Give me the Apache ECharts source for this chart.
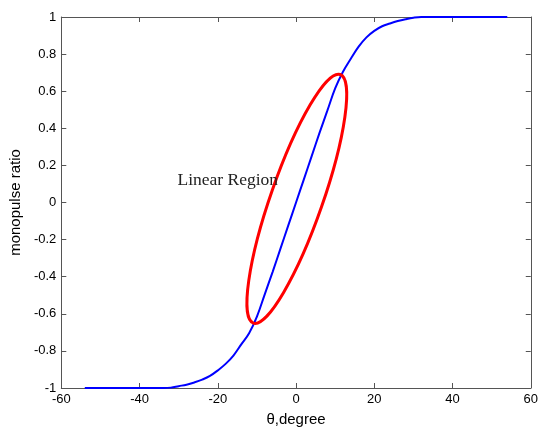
<!DOCTYPE html>
<html>
<head>
<meta charset="UTF-8">
<title>monopulse ratio</title>
<script src="https://cdn.jsdelivr.net/npm/echarts@6/dist/echarts.min.js"></script>
<style>
    body, html { margin: 0; padding: 0; background: #fff; }
    #main { width: 541px; height: 432px; }
</style>
</head>
<body>
<div id="main"></div>
<script>
// angle (deg) and monopulse ratio
var theta = [-54, -50, -46, -42, -38, -34, -32, -30, -28, -26, -24, -22, -20, -18, -16, -14, -12, -10, -8, -6, -4, -2,
    0, 2, 4, 6, 8, 10, 12, 14, 16, 18, 20, 22, 24, 26, 28, 30, 32, 34, 38, 42, 46, 50, 54];
var ratio = [-1, -1, -1, -1, -1, -1, -0.998, -0.99, -0.982, -0.97, -0.955, -0.935, -0.905, -0.87, -0.825, -0.765, -0.705, -0.615, -0.495, -0.375, -0.25, -0.125,
    0, 0.125, 0.25, 0.375, 0.495, 0.615, 0.705, 0.775, 0.84, 0.89, 0.925, 0.95, 0.965, 0.978, 0.988, 0.996, 1, 1, 1, 1, 1, 1, 1];
var xTicks = [-60, 60, 20];
var yTicks = [-1, 1, 0.2];

// annotation: ellipse centre + tip of major axis, text anchor
var ellipseCentre = [0.2, 0.02];
var ellipseTip = [11.3, 0.69];
var labelAt = [-30.3, 0.118];
var labelText = 'Linear Region';

var pts = [];
for (var i = 0; i < theta.length; i++) pts.push([theta[i], ratio[i]]);

var axisCol = '#555';
var tickFont = { fontSize: 13, color: '#000', fontFamily: 'Liberation Sans' };
function xa(pos, showLabel) {
    return {
        type: 'value', position: pos, min: xTicks[0], max: xTicks[1], interval: xTicks[2],
        axisLine: { show: true, onZero: false, lineStyle: { color: axisCol, width: 1 } },
        axisTick: { show: true, inside: true, length: 5, lineStyle: { color: axisCol } },
        axisLabel: Object.assign({ show: showLabel, margin: 5 }, tickFont),
        splitLine: { show: false }
    };
}
function ya(pos, showLabel) {
    return {
        type: 'value', position: pos, min: yTicks[0], max: yTicks[1], interval: yTicks[2],
        axisLine: { show: true, onZero: false, lineStyle: { color: axisCol, width: 1 } },
        axisTick: { show: true, inside: true, length: 5, lineStyle: { color: axisCol } },
        axisLabel: Object.assign({ show: showLabel, margin: 5,
            formatter: function (v) { return String(+v.toFixed(1)); } }, tickFont),
        splitLine: { show: false }
    };
}

var myChart = echarts.init(document.getElementById('main'));
var nameFont = { fontSize: 15, color: '#000', fontFamily: 'Liberation Sans' };
var x0 = xa('bottom', true);
x0.name = 'θ,degree';
x0.nameLocation = 'middle';
x0.nameGap = 24;
x0.nameTextStyle = nameFont;
var y0 = ya('left', true);
y0.name = 'monopulse ratio';
y0.nameLocation = 'middle';
y0.nameGap = 35;
y0.nameTextStyle = nameFont;

option = {
    animation: false,
    grid: { left: 61, right: 8, top: 17, bottom: 43 },
    xAxis: [x0, xa('top', false)],
    yAxis: [y0, ya('right', false)],
    series: [{
        type: 'line',
        data: pts,
        symbol: 'none',
        smooth: 0.4,
        lineStyle: { color: '#0000ff', width: 2 },
        z: 2
    }, {
        type: 'custom',
        data: [[ellipseCentre[0], ellipseCentre[1], ellipseTip[0], ellipseTip[1]]],
        encode: { x: 0, y: 1 },
        renderItem: function (params, api) {
            var c = api.coord([api.value(0), api.value(1)]);
            var t = api.coord([api.value(2), api.value(3)]);
            var a = Math.sqrt((t[0] - c[0]) * (t[0] - c[0]) + (t[1] - c[1]) * (t[1] - c[1]));
            return {
                type: 'ellipse',
                x: c[0], y: c[1],
                rotation: Math.atan2(-(t[1] - c[1]), t[0] - c[0]),
                shape: { cx: 0, cy: 0, rx: a, ry: 26 },
                style: { fill: 'none', stroke: '#ff0000', lineWidth: 3 }
            };
        },
        z: 3
    }, {
        type: 'custom',
        data: [labelAt],
        encode: { x: 0, y: 1 },
        renderItem: function (params, api) {
            var p = api.coord([api.value(0), api.value(1)]);
            return {
                type: 'text',
                x: p[0], y: p[1],
                style: { text: labelText, fontSize: 17.5, fontFamily: 'Liberation Serif', fill: '#222',
                    align: 'left', verticalAlign: 'middle' }
            };
        },
        z: 4
    }]
};
myChart.setOption(option);
</script>
</body>
</html>
